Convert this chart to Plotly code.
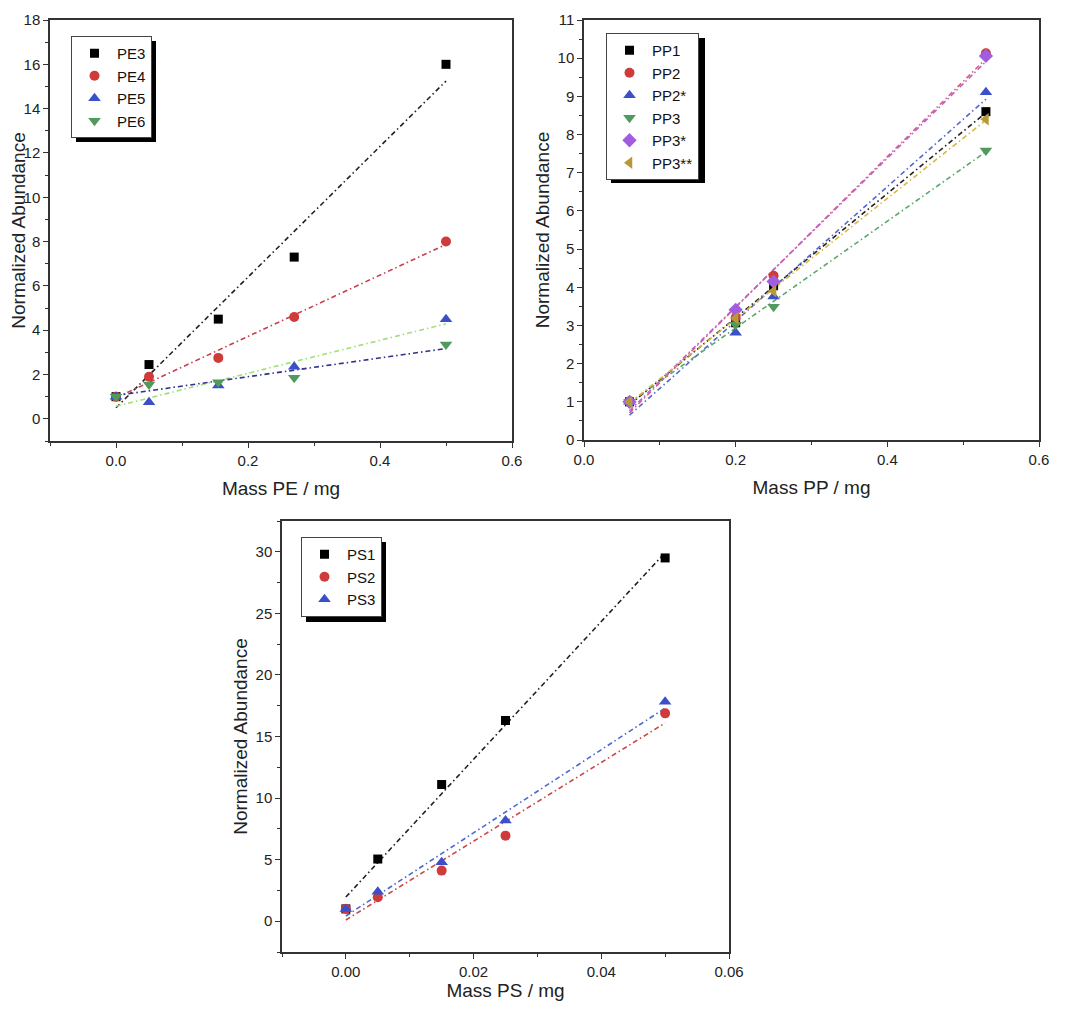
import numpy as np
import plotly.graph_objects as go

# the page adds an 8px body margin, so the figure is drawn 8px in from the top-left
OFF = 8
W, H = 1080 - 2 * OFF, 1009 - 2 * OFF

# ---------------- data ----------------
pe_x = [0.0, 0.05, 0.155, 0.27, 0.5]
pe_names = ["PE3", "PE4", "PE5", "PE6"]
pe_y = {
    "PE3": [1.0, 2.45, 4.5, 7.3, 16.0],
    "PE4": [1.0, 1.9, 2.75, 4.6, 8.0],
    "PE5": [1.0, 0.75, 1.5, 2.35, 4.5],
    "PE6": [1.0, 1.55, 1.65, 1.85, 3.35],
}

pp_x = [0.06, 0.2, 0.25, 0.53]
pp_names = ["PP1", "PP2", "PP2*", "PP3", "PP3*", "PP3**"]
pp_y = {
    "PP1": [1.0, 3.07, 4.04, 8.6],
    "PP2": [1.0, 3.2, 4.3, 10.13],
    "PP2*": [1.0, 2.81, 3.76, 9.11],
    "PP3": [1.0, 3.02, 3.49, 7.58],
    "PP3*": [1.0, 3.41, 4.15, 10.06],
    "PP3**": [1.0, 3.19, 3.9, 8.4],
}

ps_x = [0.0, 0.005, 0.015, 0.025, 0.05]
ps_names = ["PS1", "PS2", "PS3"]
ps_y = {
    "PS1": [1.0, 5.05, 11.1, 16.3, 29.5],
    "PS2": [1.0, 1.95, 4.11, 6.95, 16.88],
    "PS3": [1.0, 2.4, 4.79, 8.17, 17.83],
}

# ---------------- styles ----------------
FONT = "Liberation Sans, Arial, sans-serif"
BLACK = "#000000"
RED = "#cf3a3a"
BLUE = "#3b4fc8"
GREEN = "#4f9a5c"
PURPLE = "#a25ddf"
GOLD = "#b59a35"

pe_style = [("square", BLACK, 9), ("circle", RED, 10), ("triangle-up", BLUE, 11), ("triangle-down", GREEN, 11)]
pe_fit_colors = ["#222222", "#c8404f", "#9ee07a", "#30308f"]

pp_style = [("square", BLACK, 9), ("circle", RED, 10), ("triangle-up", BLUE, 11),
            ("triangle-down", GREEN, 11), ("diamond", PURPLE, 11), ("triangle-left", GOLD, 11)]
pp_fit_colors = ["#222222", "#d8607a", "#5566cc", "#5aa86a", "#c060d0", "#d8b840"]

ps_style = [("square", BLACK, 9), ("circle", RED, 10), ("triangle-up", BLUE, 11)]
ps_fit_colors = ["#222222", "#cc4848", "#4a6ad0"]

DASH = "5px,3px,1.5px,3px"


def px_x(p):
    return (p - OFF) / W


def px_y(p):
    return 1 - (p - OFF) / H


fig = go.Figure()

panels = [
    ("x", "y", "legend", pe_x, pe_names, pe_y, pe_style, pe_fit_colors),
    ("x2", "y2", "legend2", pp_x, pp_names, pp_y, pp_style, pp_fit_colors),
    ("x3", "y3", "legend3", ps_x, ps_names, ps_y, ps_style, ps_fit_colors),
]

for xa, ya, lg, xs, names, ys, styles, fcols in panels:
    xarr = np.array(xs)
    for name, fc in zip(names, fcols):
        k, b = np.polyfit(xarr, np.array(ys[name]), 1)
        fx = np.array([xarr.min(), xarr.max()])
        fig.add_trace(go.Scatter(
            x=fx, y=k * fx + b, mode="lines", xaxis=xa, yaxis=ya,
            line=dict(color=fc, width=1.6, dash=DASH),
            showlegend=False, hoverinfo="skip", legend=lg,
        ))
    for name, (sym, col, sz) in zip(names, styles):
        fig.add_trace(go.Scatter(
            x=xs, y=ys[name], mode="markers", name=name, xaxis=xa, yaxis=ya,
            marker=dict(symbol=sym, color=col, size=sz, line=dict(width=0)),
            legend=lg,
        ))

AX = dict(
    automargin=False, ticklabeloverflow="allow",
    showgrid=False, zeroline=False, showline=True, linecolor="#333333", linewidth=1.5,
    mirror=True, ticks="outside", ticklen=5, tickwidth=1.3, tickcolor="#333333",
    tickfont=dict(family=FONT, size=15, color="#222222"),
    title_font=dict(family=FONT, size=19, color="#222222"),
)


def minor(d):
    return dict(ticks="outside", ticklen=3, tickwidth=1.2, tickcolor="#333333", dtick=d, showgrid=False)


TOP = 20
layout_axes = dict(
    xaxis=dict(AX, domain=[px_x(50), px_x(512)], anchor="y", range=[-0.1, 0.6], dtick=0.2, tick0=0,
               tickformat=".1f", minor=minor(0.1), title=dict(text="Mass PE / mg", standoff=14)),
    yaxis=dict(AX, domain=[px_y(441), px_y(TOP)], anchor="x", range=[-1, 18], dtick=2, tick0=0,
               minor=minor(1), title=dict(text="Normalized Abundance", standoff=3)),
    xaxis2=dict(AX, domain=[px_x(584), px_x(1039)], anchor="y2", range=[0, 0.6], dtick=0.2, tick0=0,
                tickformat=".1f", minor=minor(0.1), title=dict(text="Mass PP / mg", standoff=14)),
    yaxis2=dict(AX, domain=[px_y(440), px_y(TOP)], anchor="x2", range=[0, 11], dtick=1, tick0=0,
                minor=minor(0.5), title=dict(text="Normalized Abundance", standoff=3)),
    xaxis3=dict(AX, domain=[px_x(282), px_x(729)], anchor="y3", range=[-0.01, 0.06], dtick=0.02, tick0=0,
                tickformat=".2f", minor=minor(0.01), title=dict(text="Mass PS / mg", standoff=9)),
    yaxis3=dict(AX, domain=[px_y(952), px_y(521)], anchor="x3", range=[-2.5, 32.5], dtick=5, tick0=0,
                minor=minor(2.5), title=dict(text="Normalized Abundance", standoff=3)),
)

LEG = dict(bgcolor="white", bordercolor="#444444", borderwidth=1, xanchor="left", yanchor="top",
           font=dict(family=FONT, size=15, color="#111111"), tracegroupgap=0, itemwidth=35)

# legend boxes (page pixels: left, top, right, bottom) and their drop shadows
leg_boxes = {
    "legend": (71, 36, 151, 137),
    "legend2": (606, 33, 700, 178),
    "legend3": (301, 537, 381, 617),
}
shapes = []
for key, (x0, y0, x1, y1) in leg_boxes.items():
    shapes.append(dict(type="rect", xref="paper", yref="paper",
                       x0=px_x(x0 + 5), x1=px_x(x1 + 5), y0=px_y(y1 + 5), y1=px_y(y0 + 5),
                       fillcolor="black", line=dict(width=0), layer="above"))

fig.update_layout(
    width=W, height=H, margin=dict(l=0, r=0, t=0, b=0, autoexpand=False),
    paper_bgcolor="white", plot_bgcolor="white",
    font=dict(family=FONT, color="#222222"),
    legend=dict(LEG, x=px_x(leg_boxes["legend"][0]), y=px_y(leg_boxes["legend"][1])),
    legend2=dict(LEG, x=px_x(leg_boxes["legend2"][0]), y=px_y(leg_boxes["legend2"][1])),
    legend3=dict(LEG, x=px_x(leg_boxes["legend3"][0]), y=px_y(leg_boxes["legend3"][1])),
    shapes=shapes,
    **layout_axes,
)

fig.write_html("out.html")
